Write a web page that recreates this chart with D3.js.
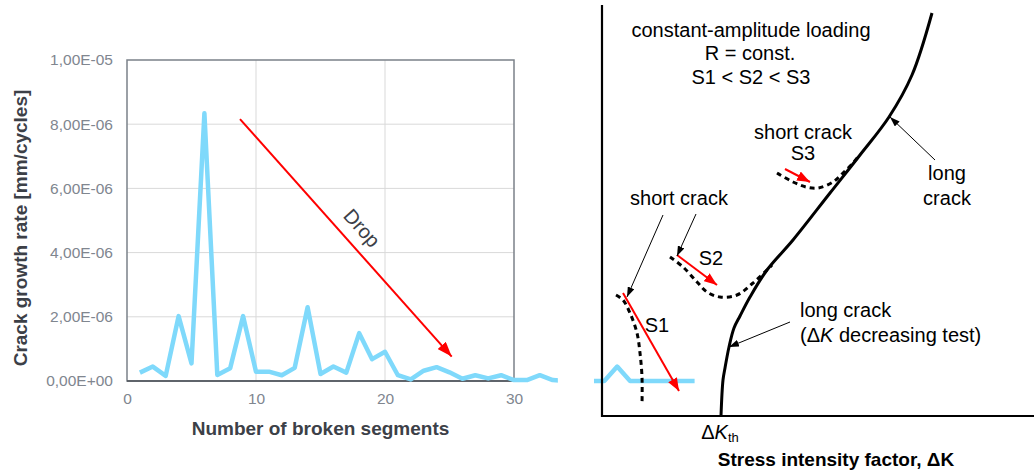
<!DOCTYPE html>
<meta charset="utf-8">
<style>

body {
  margin: 0;
  background: #fff;
  font-family: 'Liberation Sans', Arial, sans-serif;
}

svg {
  display: block;
}

.grid line {
  stroke: #d9d9d9;
  stroke-width: 1px;
}

.tick-label {
  fill: #80868f;
  font-size: 15.5px;
}

.axis-title {
  fill: #3c4047;
  font-size: 19px;
  font-weight: bold;
}

.schema text {
  fill: #000;
  font-size: 20px;
}

</style>
<body>

<script src="https://d3js.org/d3.v7.min.js"></script>
<script>

// ---- left chart: crack growth rate per broken segment ----
var segments = [1, 2, 3, 4, 5, 6, 7, 8, 9, 10, 11, 12, 13, 14, 15, 16, 17, 18, 19, 20, 21, 22,
                23, 24, 25, 26, 27, 28, 29, 30, 31, 32, 33, 34, 35, 36, 37, 38, 39, 40, 41, 42, 43, 44];
var growthRate = [0.26e-6, 0.45e-6, 0.16e-6, 2.02e-6, 0.55e-6, 8.34e-6, 0.19e-6, 0.40e-6, 2.02e-6, 0.29e-6,
                  0.29e-6, 0.18e-6, 0.41e-6, 2.30e-6, 0.22e-6, 0.45e-6, 0.26e-6, 1.49e-6, 0.68e-6, 0.91e-6,
                  0.18e-6, 0.05e-6, 0.32e-6, 0.43e-6, 0.27e-6, 0.07e-6, 0.18e-6, 0.08e-6, 0.18e-6, 0.03e-6,
                  0.03e-6, 0.18e-6, 0.03e-6, 0, 0, 0, 0, 0.45e-6, 0, 0, 0, 0, 0, 0];
var xTicks = [0, 10, 20, 30];
var yTicks = [0, 2e-6, 4e-6, 6e-6, 8e-6, 1e-5];
var yTickLabels = ["0,00E+00", "2,00E-06", "4,00E-06", "6,00E-06", "8,00E-06", "1,00E-05"];
var dropArrow = [[8.76, 8.16e-6], [25.17, 0.76e-6]];
var hiddenSpan = [33.4, 36.2];   // part of the line covered by the right picture

// ---- right sketch: da/dN vs dK (schematic units) ----
var longCrack = [[119, 0], [121, 36], [123, 48], [127, 69], [132, 88], [138, 100], [148, 119], [165, 146],
                 [191, 176], [228, 223], [258, 261], [287, 299], [310, 341], [330, 403]];
var shortS1 = [[14, 121], [21, 116], [28, 103], [35, 83], [38, 63], [40, 39], [40, 11]];
var shortS2 = [[68, 159], [81, 149], [95, 134], [105, 124], [118, 119], [135, 121], [151, 133], [165, 146], [170, 151]];
var shortS3 = [[175, 243], [191, 234], [204, 229], [216, 228], [231, 234], [241, 243], [251, 253], [256, 259]];
var redArrows = [[[21, 123], [77, 25]], [[75, 161], [115, 131]], [[183, 247], [208, 234]]];
var leaders = [[[61, 201], [25, 119]], [[94, 202], [75, 160]], [[188, 94], [127, 69]], [[333, 256], [288, 299]]];
var sketchLabels = [
  {t: "constant-amplitude loading", p: [149, 379]},
  {t: "R = const.", p: [148, 356]},
  {t: "S1 < S2 < S3", p: [149, 332]},
  {t: "short crack", p: [201, 277]},
  {t: "S3", p: [201, 256]},
  {t: "short crack", p: [77, 211]},
  {t: "S2", p: [109, 151]},
  {t: "S1", p: [55, 84]},
  {t: "long", p: [345, 236]},
  {t: "crack", p: [345, 211]},
  {t: "long crack", p: [198, 99], a: "start"}
];

var width = 1034,
    height = 474;

var svg = d3.select("body").append("svg")
    .attr("width", width)
    .attr("height", height);

var defs = svg.append("defs");

function marker(id, color, len, wid) {
  defs.append("marker")
      .attr("id", id)
      .attr("markerUnits", "userSpaceOnUse")
      .attr("viewBox", "0 0 " + len + " " + wid)
      .attr("refX", len)
      .attr("refY", wid / 2)
      .attr("markerWidth", len)
      .attr("markerHeight", wid)
      .attr("orient", "auto")
    .append("path")
      .attr("d", "M0,0L" + len + "," + (wid / 2) + "L0," + wid + "Z")
      .attr("fill", color);
}
marker("redBig", "#ff0000", 15, 11);
marker("redSmall", "#ff0000", 13, 10);
marker("blackSmall", "#000", 10, 7);

// ---------- left chart ----------
var x = d3.scaleLinear().domain([0, 30]).range([127, 514]);
var y = d3.scaleLinear().domain([0, 1e-5]).range([381, 60]);

var left = svg.append("g");

left.append("g").attr("class", "grid")
  .selectAll("line.h")
  .data(yTicks.slice(1, -1))
  .enter().append("line")
    .attr("x1", x(0)).attr("x2", x(30))
    .attr("y1", function(d) { return y(d); })
    .attr("y2", function(d) { return y(d); });

left.append("g").attr("class", "grid")
  .selectAll("line.v")
  .data(xTicks.slice(1, -1))
  .enter().append("line")
    .attr("y1", y(0)).attr("y2", y(1e-5))
    .attr("x1", function(d) { return x(d); })
    .attr("x2", function(d) { return x(d); });

left.append("rect")
    .attr("x", x(0)).attr("y", y(1e-5))
    .attr("width", x(30) - x(0)).attr("height", y(0) - y(1e-5))
    .attr("fill", "none")
    .attr("stroke", "#7b8189")
    .attr("stroke-width", 1.5);

left.append("line")
    .attr("x1", x(0)).attr("x2", x(30))
    .attr("y1", y(0)).attr("y2", y(0))
    .attr("stroke", "#4b5057")
    .attr("stroke-width", 1.5);

var yAxis = d3.axisLeft(y)
    .tickValues(yTicks)
    .tickSize(0)
    .tickPadding(14)
    .tickFormat(function(d, i) { return yTickLabels[i]; });

var xAxis = d3.axisBottom(x)
    .tickValues(xTicks)
    .tickSize(0)
    .tickPadding(12);

var gy = left.append("g").attr("transform", "translate(" + x(0) + ",0)").call(yAxis);
var gx = left.append("g").attr("transform", "translate(0," + y(0) + ")").call(xAxis);
[gy, gx].forEach(function(g) {
  g.select(".domain").remove();
  g.selectAll("text").attr("class", "tick-label").attr("font-family", null).attr("font-size", null).attr("fill", null);
});

left.append("text")
    .attr("class", "axis-title")
    .attr("text-anchor", "middle")
    .attr("transform", "translate(27,228) rotate(-90)")
    .text("Crack growth rate [mm/cycles]");

left.append("text")
    .attr("class", "axis-title")
    .attr("text-anchor", "middle")
    .attr("x", (x(0) + x(30)) / 2)
    .attr("y", 435)
    .text("Number of broken segments");

var line = d3.line()
    .x(function(d, i) { return x(segments[i]); })
    .y(function(d) { return y(d); });

left.append("path")
    .datum(growthRate)
    .attr("d", line)
    .attr("fill", "none")
    .attr("stroke", "#7fd9fb")
    .attr("stroke-width", 4.5)
    .attr("stroke-linejoin", "round");

// white cover where the sketch sits on top of the line
left.append("rect")
    .attr("x", x(hiddenSpan[0]))
    .attr("width", x(hiddenSpan[1]) - x(hiddenSpan[0]))
    .attr("y", y(1e-5))
    .attr("height", y(0) - y(1e-5) + 10)
    .attr("fill", "#fff");

left.append("line")
    .attr("x1", x(dropArrow[0][0])).attr("y1", y(dropArrow[0][1]))
    .attr("x2", x(dropArrow[1][0])).attr("y2", y(dropArrow[1][1]))
    .attr("stroke", "#ff0000")
    .attr("stroke-width", 2)
    .attr("marker-end", "url(#redBig)");

var ang = Math.atan2(y(dropArrow[1][1]) - y(dropArrow[0][1]), x(dropArrow[1][0]) - x(dropArrow[0][0])) * 180 / Math.PI;
left.append("text")
    .attr("transform", "translate(362,228) rotate(" + ang + ")")
    .attr("text-anchor", "middle")
    .attr("dy", "0.35em")
    .attr("fill", "#3c4047")
    .attr("font-size", "20px")
    .text("Drop");

// ---------- right sketch ----------
var kx = d3.scaleLinear().domain([0, 432]).range([602, 1034]);
var ky = d3.scaleLinear().domain([0, 411]).range([416, 5]);

var sk = svg.append("g").attr("class", "schema");

var curve = d3.line()
    .x(function(d) { return kx(d[0]); })
    .y(function(d) { return ky(d[1]); })
    .curve(d3.curveCatmullRom.alpha(0.5));

sk.append("path")
    .attr("d", "M" + kx(0) + "," + ky(411) + "V" + ky(0) + "H" + kx(432))
    .attr("fill", "none")
    .attr("stroke", "#000")
    .attr("stroke-width", 2.2);

sk.append("path")
    .datum(longCrack)
    .attr("d", curve)
    .attr("fill", "none")
    .attr("stroke", "#000")
    .attr("stroke-width", 3);

sk.selectAll("path.short")
    .data([shortS1, shortS2, shortS3])
    .enter().append("path")
    .attr("class", "short")
    .attr("d", curve)
    .attr("fill", "none")
    .attr("stroke", "#000")
    .attr("stroke-width", 3)
    .attr("stroke-dasharray", "5,4");

sk.selectAll("line.red")
    .data(redArrows)
    .enter().append("line")
    .attr("class", "red")
    .attr("x1", function(d) { return kx(d[0][0]); })
    .attr("y1", function(d) { return ky(d[0][1]); })
    .attr("x2", function(d) { return kx(d[1][0]); })
    .attr("y2", function(d) { return ky(d[1][1]); })
    .attr("stroke", "#ff0000")
    .attr("stroke-width", 2)
    .attr("marker-end", "url(#redSmall)");

sk.selectAll("line.lead")
    .data(leaders)
    .enter().append("line")
    .attr("class", "lead")
    .attr("x1", function(d) { return kx(d[0][0]); })
    .attr("y1", function(d) { return ky(d[0][1]); })
    .attr("x2", function(d) { return kx(d[1][0]); })
    .attr("y2", function(d) { return ky(d[1][1]); })
    .attr("stroke", "#000")
    .attr("stroke-width", 1)
    .attr("marker-end", "url(#blackSmall)");

sk.selectAll("text.lbl")
    .data(sketchLabels)
    .enter().append("text")
    .attr("class", "lbl")
    .attr("x", function(d) { return kx(d.p[0]); })
    .attr("y", function(d) { return ky(d.p[1]); })
    .attr("text-anchor", function(d) { return d.a || "middle"; })
    .text(function(d) { return d.t; });

var dec = sk.append("text")
    .attr("x", kx(198))
    .attr("y", ky(74));
dec.append("tspan").text("(\u0394");
dec.append("tspan").attr("font-style", "italic").text("K");
dec.append("tspan").text(" decreasing test)");

var th = sk.append("text")
    .attr("x", kx(118))
    .attr("y", ky(-23))
    .attr("text-anchor", "middle");
th.append("tspan").text("\u0394");
th.append("tspan").attr("font-style", "italic").text("K");
th.append("tspan").attr("font-size", "13px").attr("dy", "3").text("th");

sk.append("text")
    .attr("x", kx(234))
    .attr("y", ky(-50))
    .attr("text-anchor", "middle")
    .attr("font-weight", "bold")
    .style("font-size", "19px")
    .text("Stress intensity factor, \u0394K");

</script>
</body>
